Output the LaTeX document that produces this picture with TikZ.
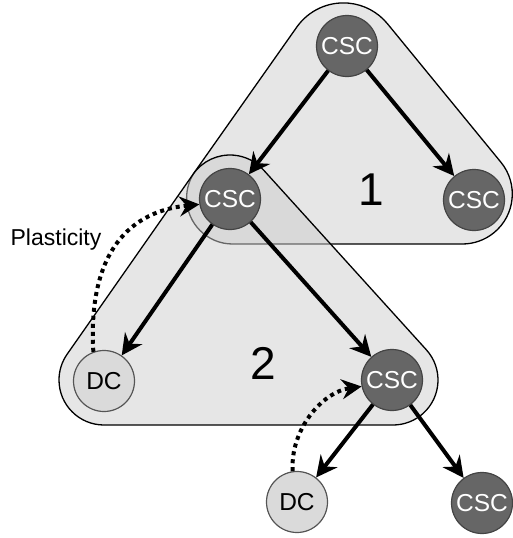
\documentclass[tikz,border=0pt]{standalone}
\usepackage{fontspec}
\setmainfont{Liberation Sans}
\usetikzlibrary{arrows.meta,calc}
\definecolor{cscfill}{HTML}{666666}
\definecolor{cscline}{HTML}{444444}
\definecolor{dcfill}{HTML}{DADADA}
\definecolor{dcline}{HTML}{555555}
\definecolor{grpone}{HTML}{E6E6E6}
\definecolor{grptwo}{HTML}{CDCDCD}
\tikzset{
  csc/.style={circle, minimum size=61pt, inner sep=0pt, fill=cscfill, draw=cscline,
    line width=1.2pt, text=white, font=\fontsize{24.5}{28}\selectfont},
  dc/.style={circle, minimum size=61pt, inner sep=0pt, fill=dcfill, draw=dcline,
    line width=1.2pt, text=black, font=\fontsize{24.5}{28}\selectfont},
  grpA/.style={fill=grpone, draw=black, line width=1.3pt},
  grpB/.style={fill=grptwo, fill opacity=0.5, draw=black, draw opacity=1, line width=1.3pt},
  link/.style={line width=4pt, -{Stealth[length=21pt,width=21pt,inset=7pt]}},
  plast/.style={line width=4pt, line cap=butt, dash pattern=on 4pt off 4pt,
    -{Stealth[length=20pt,width=20pt,inset=7pt]}},
  bignum/.style={font=\fontsize{46}{50}\selectfont},
  lbl/.style={font=\fontsize{23}{27}\selectfont}
}
\begin{document}
\begin{tikzpicture}[x=1pt,y=-1pt]
\useasboundingbox (0,0) rectangle (513,538);

% corner circles of the two rounded triangles
\coordinate (t1a) at (343.4,59.9);
\coordinate (t1b) at (462.3,194);
\coordinate (t1c) at (232.6,198);
\coordinate (t2a) at (230,200);
\coordinate (t2b) at (393,380);
\coordinate (t2c) at (104,380);

% group 1
\draw[grpA] ($(t1a)+(-144.8:57)$) arc[start angle=-144.8, end angle=-39.3, radius=57]
  -- ($(t1b)+(-39.3:50)$) arc[start angle=-39.3, end angle=90, radius=50]
  -- ($(t1c)+(90:46)$) arc[start angle=90, end angle=215.2, radius=46] -- cycle;

% group 2
\draw[grpB] ($(t2a)+(-145:45)$) arc[start angle=-145, end angle=-42.2, radius=45]
  -- ($(t2b)+(-42.2:45)$) arc[start angle=-42.2, end angle=90, radius=45]
  -- ($(t2c)+(90:45)$) arc[start angle=90, end angle=215, radius=45] -- cycle;

\node[bignum] (one) at (371,190) {1};
\node[bignum] (two) at (263,363) {2};
\node[lbl] (plab) at (56,240) {Plasticity};

% cells
\node[csc] (top) at (347,46) {CSC};
\node[csc] (mid) at (230,199) {CSC};
\node[csc] (rone) at (474,200) {CSC};
\node[dc]  (dcl) at (104,381) {DC};
\node[csc] (rtwo) at (392,380) {CSC};
\node[dc]  (dcb) at (297,502) {DC};
\node[csc] (brc) at (482,503) {CSC};

% divisions
\draw[link] (top) -- (mid);
\draw[link] (top) -- (rone);
\draw[link] (mid) -- (dcl);
\draw[link] (mid) -- (rtwo);
\draw[link] (rtwo) -- (dcb);
\draw[link] (rtwo) -- (brc);

% plasticity (dedifferentiation)
\draw[plast] (dcl.110) .. controls (88,262) and (122,212) .. (mid.190);
\draw[plast] (dcb.98) .. controls (290,430) and (322,392) .. (rtwo.192);
\end{tikzpicture}
\end{document}
